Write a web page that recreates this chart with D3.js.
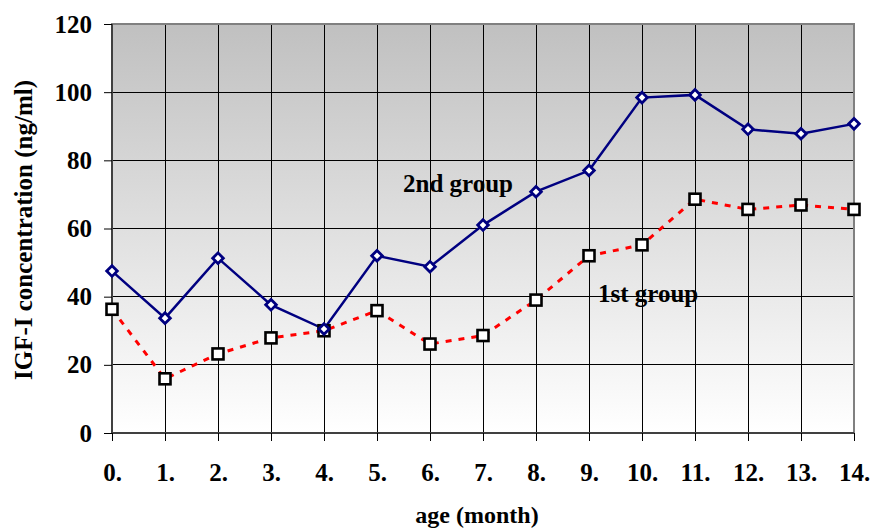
<!DOCTYPE html>
<html><head><meta charset="utf-8">
<script src="https://cdn.jsdelivr.net/npm/d3@7"></script>
<style>html,body{margin:0;padding:0;background:#fff;}svg{display:block;}</style>
</head><body>
<svg id="chart" width="872" height="528"></svg>
<script>
const months = [0,1,2,3,4,5,6,7,8,9,10,11,12,13,14];
const monthLabels = ["0.","1.","2.","3.","4.","5.","6.","7.","8.","9.","10.","11.","12.","13.","14."];
const group2 = [47.5,33.7,51.3,37.6,30.5,52,48.8,61,70.8,77,98.4,99.2,89.1,87.8,90.7];
const group1 = [36.3,15.9,23.2,27.9,30,35.9,26.1,28.6,39,52,55.2,68.6,65.6,66.9,65.6];
const yTicks = [0,20,40,60,80,100,120];

const svg = d3.select("#chart");
const L=112, R=854, T=24, B=433;
const x = d3.scaleLinear().domain([0,14]).range([L,R]);
const y = d3.scaleLinear().domain([0,120]).range([B,T]);
const font = "'Liberation Serif','Times New Roman',serif";

const defs = svg.append("defs");
const grad = defs.append("linearGradient").attr("id","bg").attr("x1",0).attr("y1",0).attr("x2",0).attr("y2",1);
grad.append("stop").attr("offset","0%").attr("stop-color","#c0c0c0");
grad.append("stop").attr("offset","100%").attr("stop-color","#ffffff");

svg.append("rect").attr("x",L).attr("y",T).attr("width",R-L).attr("height",B-T).attr("fill","url(#bg)");

// grid
svg.append("g").selectAll("line").data(yTicks.filter(d=>d>0&&d<120)).join("line")
  .attr("x1",L).attr("x2",R).attr("y1",d=>y(d)).attr("y2",d=>y(d))
  .attr("stroke","#000").attr("stroke-width",1).attr("shape-rendering","crispEdges");
svg.append("g").selectAll("line").data(months.filter(d=>d>0&&d<14)).join("line")
  .attr("x1",d=>x(d)).attr("x2",d=>x(d)).attr("y1",T).attr("y2",B)
  .attr("stroke","#000").attr("stroke-width",1).attr("shape-rendering","crispEdges");

// border
svg.append("rect").attr("x",L).attr("y",T).attr("width",R-L).attr("height",B-T)
  .attr("fill","none").attr("stroke","#808080").attr("stroke-width",2);
svg.append("line").attr("x1",L).attr("x2",L).attr("y1",T).attr("y2",B).attr("stroke","#404040").attr("stroke-width",2);
svg.append("line").attr("x1",L).attr("x2",R).attr("y1",B).attr("y2",B).attr("stroke","#404040").attr("stroke-width",2);

// axes
const yAxis = d3.axisLeft(y).tickValues(yTicks).tickSize(8).tickPadding(12).tickFormat(d3.format("d"));
const gy = svg.append("g").attr("transform",`translate(${L},0)`).call(yAxis);
gy.select(".domain").remove();
gy.selectAll("line").attr("stroke","#000");
gy.selectAll("text").attr("font-family",font).attr("font-weight","bold").attr("font-size","25px").attr("fill","#000");

const xAxis = d3.axisBottom(x).tickValues(months).tickSize(8).tickPadding(22).tickFormat((d,i)=>monthLabels[i]);
const gx = svg.append("g").attr("transform",`translate(0,${B})`).call(xAxis);
gx.select(".domain").remove();
gx.selectAll("line").attr("stroke","#000");
gx.selectAll("text").attr("font-family",font).attr("font-weight","bold").attr("font-size","25px").attr("fill","#000");

// lines
const line = d3.line().x((d,i)=>x(months[i])).y(d=>y(d));
svg.append("path").datum(group1).attr("d",line).attr("fill","none")
  .attr("stroke","#ff0000").attr("stroke-width",3).attr("stroke-dasharray","6,7");
svg.append("path").datum(group2).attr("d",line).attr("fill","none")
  .attr("stroke","#000080").attr("stroke-width",2.5);

// markers
svg.append("g").selectAll("rect").data(group1).join("rect")
  .attr("x",(d,i)=>x(months[i])-5.5).attr("y",d=>y(d)-5.5).attr("width",11).attr("height",11)
  .attr("fill","#fff").attr("stroke","#000").attr("stroke-width",2.6);
svg.append("g").selectAll("path").data(group2).join("path")
  .attr("d",d3.symbol().type(d3.symbolSquare).size(56))
  .attr("transform",(d,i)=>`translate(${x(months[i])},${y(d)}) rotate(45)`)
  .attr("fill","#fff").attr("stroke","#000080").attr("stroke-width",2.8);

// series labels
svg.append("text").attr("x",403).attr("y",192).text("2nd group")
  .attr("font-family",font).attr("font-weight","bold").attr("font-size","25px");
svg.append("text").attr("x",598).attr("y",302).text("1st group")
  .attr("font-family",font).attr("font-weight","bold").attr("font-size","25px");

// axis titles
svg.append("text").attr("x",477).attr("y",523).attr("text-anchor","middle").text("age (month)")
  .attr("font-family",font).attr("font-weight","bold").attr("font-size","24px");
svg.append("text").attr("transform","translate(32,230) rotate(-90)").attr("text-anchor","middle")
  .text("IGF-I concentration (ng/ml)")
  .attr("font-family",font).attr("font-weight","bold").attr("font-size","25px");
</script>
</body></html>
